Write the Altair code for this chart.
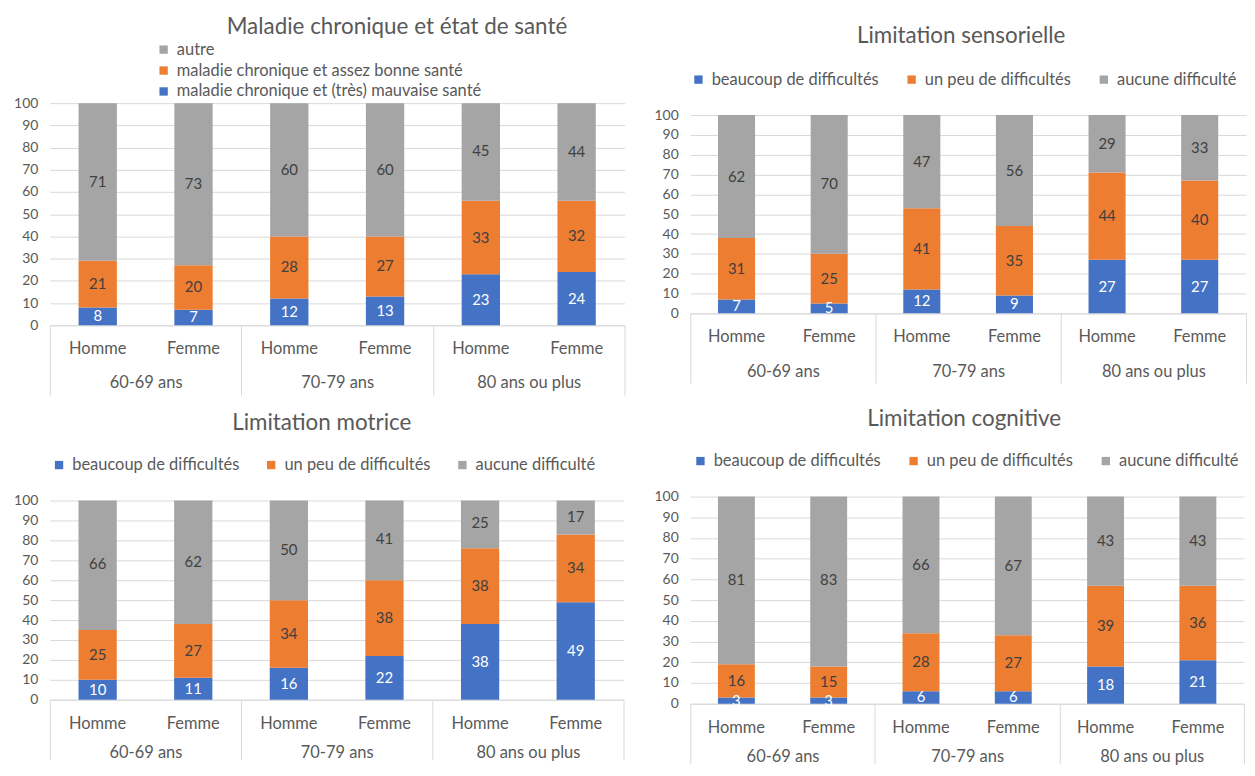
import altair as alt
import pandas as pd

ages = ["60-69 ans", "70-79 ans", "80 ans ou plus"]
sexes = ["Homme", "Femme"]

# Panel 1 : Maladie chronique et état de santé
titre_1 = "Maladie chronique et état de santé"
series_1 = ["maladie chronique et (très) mauvaise santé",
            "maladie chronique et assez bonne santé",
            "autre"]
mal_mauvaise = [8, 7, 12, 13, 23, 24]
mal_assez = [21, 20, 28, 27, 33, 32]
mal_autre = [71, 73, 60, 60, 45, 44]

series_lim = ["beaucoup de difficultés", "un peu de difficultés", "aucune difficulté"]

titre_2 = "Limitation sensorielle"
sens_beaucoup = [7, 5, 12, 9, 27, 27]
sens_peu = [31, 25, 41, 35, 44, 40]
sens_aucune = [62, 70, 47, 56, 29, 33]

titre_3 = "Limitation motrice"
mot_beaucoup = [10, 11, 16, 22, 38, 49]
mot_peu = [25, 27, 34, 38, 38, 34]
mot_aucune = [66, 62, 50, 41, 25, 17]

titre_4 = "Limitation cognitive"
cog_beaucoup = [3, 3, 6, 6, 18, 21]
cog_peu = [16, 15, 28, 27, 39, 36]
cog_aucune = [81, 83, 66, 67, 43, 43]

BLUE, ORANGE, GREY = "#4472C4", "#ED7D31", "#A5A5A5"
FONT = "Lato"
TXT = "#595959"
GRID = "#D9D9D9"


def frame(series, cols):
    rows = []
    for k, (s, vals) in enumerate(zip(series, cols)):
        for i, v in enumerate(vals):
            rows.append({"age": ages[i // 2], "sexe": sexes[i % 2],
                         "serie": s, "k": k, "value": v})
    return pd.DataFrame(rows)


def panel(title, series, cols, width, height, top_pad, legend_domain, legend_range,
          legend, title_dx, title_offset, tick_size, label_pad, sexe_dy=24):
    df = frame(series, cols)
    base = alt.Chart(df).transform_stack(
        stack="value", groupby=["age", "sexe"], as_=["y0", "y1"],
        sort=[alt.SortField("k", order="ascending")]
    ).transform_calculate(mid="(datum.y0 + datum.y1) / 2")

    x = alt.X("age:N", sort=ages, title=None,
              scale=alt.Scale(paddingInner=0, paddingOuter=0),
              axis=alt.Axis(labelAngle=0, labelFont=FONT, labelFontSize=16.5,
                            labelColor=TXT, domainColor=GRID, tickColor=GRID,
                            tickBand="extent", tickSize=tick_size,
                            labelPadding=label_pad, grid=False))
    xo = alt.XOffset("sexe:N", sort=sexes,
                     scale=alt.Scale(paddingInner=0.6, paddingOuter=0.3))
    yscale = alt.Scale(domain=[0, 100], nice=False, clamp=True,
                       range=[height, top_pad])
    yaxis = alt.Axis(values=list(range(0, 101, 10)), title=None, domain=False,
                     ticks=False, labelPadding=12, labelFont=FONT,
                     labelFontSize=14, labelColor=TXT, gridColor=GRID,
                     minExtent=37, maxExtent=37)

    bars = base.mark_bar().encode(
        x=x, xOffset=xo,
        y=alt.Y("y0:Q", scale=yscale, axis=yaxis),
        y2="y1:Q",
        color=alt.Color("serie:N",
                        scale=alt.Scale(domain=legend_domain, range=legend_range),
                        legend=legend),
    )
    labels = base.mark_text(font=FONT, fontSize=15, baseline="middle").encode(
        x=x, xOffset=xo,
        y=alt.Y("mid:Q", scale=yscale, axis=yaxis),
        text="value:Q",
        color=alt.condition(alt.datum.k == 0, alt.value("white"), alt.value("#404040")),
    )
    sexe_labels = alt.Chart(df).transform_filter(alt.datum.k == 0).mark_text(
        font=FONT, fontSize=16.5, baseline="middle", color=TXT
    ).encode(
        x=x, xOffset=xo, text="sexe:N", y=alt.value(height + sexe_dy)
    )
    return alt.layer(bars, labels, sexe_labels).properties(
        width=width, height=height,
        title=alt.TitleParams(title, font=FONT, fontSize=22.5, fontWeight="normal",
                              color=TXT, anchor="middle", frame="group",
                              dx=title_dx, offset=title_offset),
    )


def leg(direction, x, y, col_pad=10):
    return alt.Legend(title=None, orient="none", legendX=x, legendY=y,
                      direction=direction, symbolType="square", symbolSize=70,
                      symbolStrokeWidth=0, labelFont=FONT, labelFontSize=16.5,
                      labelColor=TXT, labelLimit=500, rowPadding=4,
                      columnPadding=col_pad, labelOffset=5)


p1 = panel(titre_1, series_1, [mal_mauvaise, mal_assez, mal_autre],
           577, 223, 0,
           [series_1[2], series_1[1], series_1[0]], [GREY, ORANGE, BLUE],
           leg("vertical", 106, -62), 60, 3, 70, -20)
p2 = panel(titre_2, series_lim, [sens_beaucoup, sens_peu, sens_aucune],
           558, 211, 12,
           series_lim, [BLUE, ORANGE, GREY],
           leg("horizontal", 0, -32, 24), -7, 24, 70, -20)
p3 = panel(titre_3, series_lim, [mot_beaucoup, mot_peu, mot_aucune],
           576, 204, 4,
           series_lim, [BLUE, ORANGE, GREY],
           leg("horizontal", 1, -40, 23), -15, 22, 60, -15)
p4 = panel(titre_4, series_lim, [cog_beaucoup, cog_peu, cog_aucune],
           556, 208, 0,
           series_lim, [BLUE, ORANGE, GREY],
           leg("horizontal", 2, -44, 24), -3, 22, 60, -15)

row1 = alt.hconcat(p1, p2, spacing=28).resolve_scale(color="independent", xOffset="independent")
row2 = alt.hconcat(p3, p4, spacing=29).resolve_scale(color="independent", xOffset="independent")

chart = alt.vconcat(row1, row2, spacing=12).resolve_scale(
    color="independent", xOffset="independent"
).properties(
    padding={"left": 5, "top": 6, "right": 0, "bottom": 0},
    background="white",
).configure_view(stroke=None)

chart.save("out.html", embed_options={"renderer": "svg", "actions": False})
